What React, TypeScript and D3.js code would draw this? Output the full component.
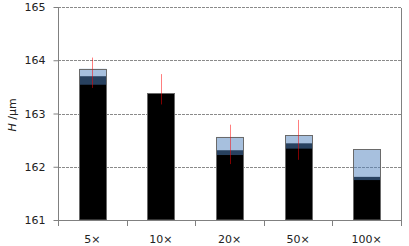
import React, { useEffect, useRef } from "react";
import * as d3 from "d3";

// values
const categories = ["5×", "10×", "20×", "50×", "100×"];
const lowValues = [163.54, 163.38, 162.22, 162.34, 161.75]; // top of black part
const midValues = [163.7, 163.38, 162.31, 162.44, 161.81]; // top of dark band
const highValues = [163.84, 163.38, 162.56, 162.59, 162.33]; // top of light band
const errLow = [163.48, 163.17, 162.05, 162.13, null];
const errHigh = [164.05, 163.74, 162.79, 162.88, null];
const yTicks = [161, 162, 163, 164, 165];

const W = 409;
const H = 246;

export default function App() {
  const ref = useRef<SVGSVGElement>(null);

  useEffect(() => {
    const svg = d3.select(ref.current);
    const left = 58, right = 401, top = 7, bottom = 220;

    const x = d3.scaleBand().domain(categories).range([left, right]).paddingInner(0).paddingOuter(0);
    const y = d3.scaleLinear().domain([161, 165]).range([bottom, top]);
    const barW = 27;
    const font = "'DejaVu Sans', sans-serif";

    const rows = categories.map((c, i) => ({
      cat: c, low: lowValues[i], mid: midValues[i], high: highValues[i], el: errLow[i], eh: errHigh[i],
    }));

    // gridlines
    svg.selectAll(".grid").data(yTicks.slice(1)).join("line").attr("class", "grid")
      .attr("x1", left).attr("x2", right)
      .attr("y1", d => Math.round(y(d)) + 0.5).attr("y2", d => Math.round(y(d)) + 0.5)
      .attr("stroke", "#8a8a8a").attr("stroke-dasharray", "3,1");

    const bx = (d: any) => Math.round(x(d.cat)! + x.bandwidth() / 2 - barW / 2) + 0.5;

    // black bars
    svg.selectAll(".bar-black").data(rows).join("rect").attr("class", "bar-black")
      .attr("x", bx).attr("width", barW)
      .attr("y", d => y(d.mid)).attr("height", d => y(161) - y(d.mid))
      .attr("fill", "#000");

    // semi-transparent blue bars
    svg.selectAll(".bar-blue").data(rows).join("rect").attr("class", "bar-blue")
      .attr("x", bx).attr("width", barW)
      .attr("y", d => y(d.high)).attr("height", d => y(d.low) - y(d.high))
      .attr("fill", "rgba(79,129,189,0.5)");

    // outline
    svg.selectAll(".bar-outline").data(rows).join("rect").attr("class", "bar-outline")
      .attr("x", bx).attr("width", barW)
      .attr("y", d => Math.round(y(d.high)) + 0.5).attr("height", d => y(161) - Math.round(y(d.high)) - 0.5)
      .attr("fill", "none").attr("stroke", "#6a6a6a");

    // error bars
    svg.selectAll(".err").data(rows.filter(d => d.el != null)).join("line").attr("class", "err")
      .attr("x1", d => Math.round(x(d.cat)! + x.bandwidth() / 2) + 0.5)
      .attr("x2", d => Math.round(x(d.cat)! + x.bandwidth() / 2) + 0.5)
      .attr("y1", d => y(d.eh as number)).attr("y2", d => y(d.el as number))
      .attr("stroke", "rgba(255,0,0,0.5)").attr("stroke-width", 1);

    // left axis
    const yAxis = svg.selectAll(".y-axis").data([0]).join("g").attr("class", "y-axis")
      .attr("transform", `translate(${left + 0.5},0)`)
      .call(d3.axisLeft(y).tickValues(yTicks).tickSize(5).tickSizeOuter(0).tickFormat(d3.format("d")));
    yAxis.select(".domain").attr("stroke", "#808080").attr("d", `M0,${top + 1}V${bottom + 6}`);
    yAxis.selectAll(".tick line").attr("stroke", "#808080");
    yAxis.selectAll(".tick text").attr("x", -13).attr("fill", "#222")
      .style("font-family", font).style("font-size", "11px");

    // bottom axis
    const xAxis = svg.selectAll(".x-axis").data([0]).join("g").attr("class", "x-axis")
      .attr("transform", `translate(0,${bottom + 0.5})`)
      .call(d3.axisBottom(x).tickSize(0).tickSizeOuter(0));
    xAxis.select(".domain").attr("stroke", "#808080").attr("d", `M${left},0H${right + 1}`);
    xAxis.selectAll(".tick text").attr("y", 15).attr("fill", "#222")
      .style("font-family", font).style("font-size", "11px");

    // category boundary ticks
    const bounds = categories.slice(1).map(c => x(c)!).concat([right]);
    svg.selectAll(".xb").data(bounds).join("line").attr("class", "xb")
      .attr("x1", d => Math.round(d) + 0.5).attr("x2", d => Math.round(d) + 0.5)
      .attr("y1", bottom).attr("y2", bottom + 6).attr("stroke", "#808080");

    // right border line
    svg.selectAll(".rline").data([0]).join("line").attr("class", "rline")
      .attr("x1", right + 0.5).attr("x2", right + 0.5).attr("y1", top + 1).attr("y2", bottom)
      .attr("stroke", "#808080");

    // y title
    const t = svg.selectAll(".ytitle").data([0]).join("text").attr("class", "ytitle")
      .attr("transform", `translate(16,115) rotate(-90)`).attr("text-anchor", "middle")
      .attr("fill", "#222").style("font-family", font).style("font-size", "11px");
    t.selectAll("tspan").data(["H", " /µm"]).join("tspan")
      .text(d => d).style("font-style", (d, i) => (i === 0 ? "italic" : "normal"));
  }, []);

  return (
    <svg ref={ref} width={W} height={H} style={{ position: "absolute", left: 0, top: 0, background: "#fff" }} />
  );
}
